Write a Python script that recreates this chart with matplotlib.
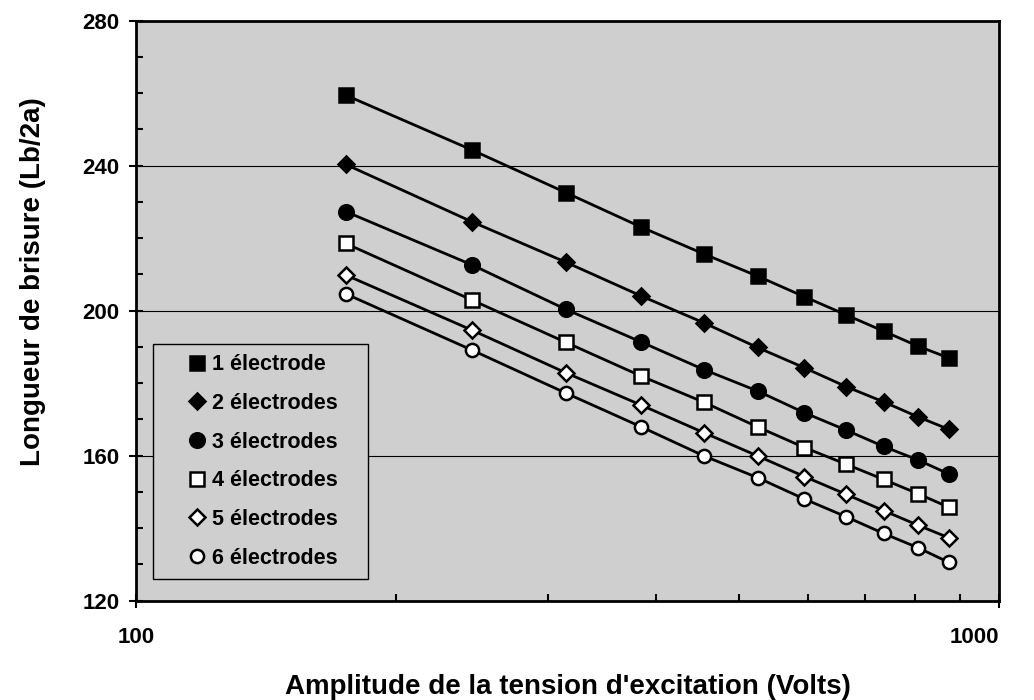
import numpy as np
import matplotlib
matplotlib.use("Agg")
import matplotlib.pyplot as plt
from matplotlib.ticker import LogLocator, FixedLocator, MultipleLocator, NullFormatter, FuncFormatter

plt.rcParams['font.family'] = ['Liberation Sans', 'DejaVu Sans']
plt.rcParams['font.weight'] = 'bold'

# excitation voltage amplitude (V)
volts = [175, 245, 315, 385, 455, 525, 595, 665, 735, 805, 875]

# breakdown length (Lb/2a), one series per electrode count
e1 = [259.4, 244.3, 232.5, 223.0, 215.6, 209.5, 203.8, 198.8, 194.3, 190.2, 186.9]
e2 = [240.3, 224.5, 213.3, 204.0, 196.6, 189.8, 184.2, 179.0, 174.8, 170.7, 167.2]
e3 = [227.3, 212.6, 200.3, 191.3, 183.7, 177.8, 171.8, 167.0, 162.5, 158.8, 154.9]
e4 = [218.5, 202.9, 191.2, 181.9, 174.7, 167.9, 162.2, 157.6, 153.4, 149.5, 145.7]
e5 = [209.8, 194.6, 182.8, 173.9, 166.3, 159.9, 154.2, 149.3, 144.8, 140.8, 137.3]
e6 = [204.6, 189.1, 177.2, 167.9, 159.9, 153.9, 148.0, 143.1, 138.5, 134.6, 130.5]

labels = ["1 électrode", "2 électrodes", "3 électrodes",
          "4 électrodes", "5 électrodes", "6 électrodes"]

# marker, size, filled
styles = [("s", 10, True), ("D", 8, True), ("o", 10.5, True),
          ("s", 9.5, False), ("D", 8, False), ("o", 9.5, False)]

bg = "#cfcfcf"

fig = plt.figure(figsize=(10.34, 7.0), dpi=100)
ax = fig.add_axes([0.1315, 0.1421, 0.8347, 0.8286])
ax.set_facecolor(bg)

series = [e1, e2, e3, e4, e5, e6]
for ys, lab, (m, ms, filled) in zip(series, labels, styles):
    ax.plot(volts, ys, color="black", lw=2, zorder=3)
    ax.plot(volts, ys, linestyle="none", marker=m, markersize=ms,
            markerfacecolor="black" if filled else "white",
            markeredgecolor="black", markeredgewidth=1.8, label=lab, zorder=4)

ax.set_xscale("log")
ax.set_xlim(100, 1000)
ax.set_ylim(120, 280)

ax.xaxis.set_major_locator(FixedLocator([100, 1000]))
ax.xaxis.set_major_formatter(FuncFormatter(lambda v, p: "%d" % v))
ax.xaxis.set_minor_locator(LogLocator(base=10, subs=np.arange(2, 10)))
ax.xaxis.set_minor_formatter(NullFormatter())

ax.yaxis.set_major_locator(MultipleLocator(40))
ax.yaxis.set_minor_locator(MultipleLocator(10))

ax.tick_params(axis="both", which="major", direction="inout", length=10,
               width=1.5, labelsize=16)
ax.tick_params(axis="both", which="minor", direction="in", length=5, width=1.5)
ax.tick_params(axis="x", which="major", pad=14)
ax.tick_params(axis="y", which="major", pad=7)

ax.grid(True, axis="y", which="major", color="black", lw=0.8)
for s in ax.spines.values():
    s.set_linewidth(2)

ax.set_xlabel("Amplitude de la tension d'excitation (Volts)", fontsize=20,
              fontweight="bold", labelpad=19)
ax.set_ylabel("Longueur de brisure (Lb/2a)", fontsize=20, fontweight="bold")
ax.yaxis.set_label_coords(-0.104, 0.549)

# keep "1000" inside the figure like the original
fig.canvas.draw()
ax.get_xticklabels()[-1].set_horizontalalignment("right")

leg = ax.legend(loc="lower left", bbox_to_anchor=(0.0193, 0.0366, 0.25, 0.4),
                mode="expand", borderaxespad=0, fontsize=15.5,
                handlelength=3.1, handletextpad=-0.85, labelspacing=0.82,
                borderpad=0.5, fancybox=False, framealpha=1,
                facecolor=bg, edgecolor="black")
leg.get_frame().set_linewidth(1.0)
leg.set_zorder(5)

fig.savefig("out.png", dpi=100)
